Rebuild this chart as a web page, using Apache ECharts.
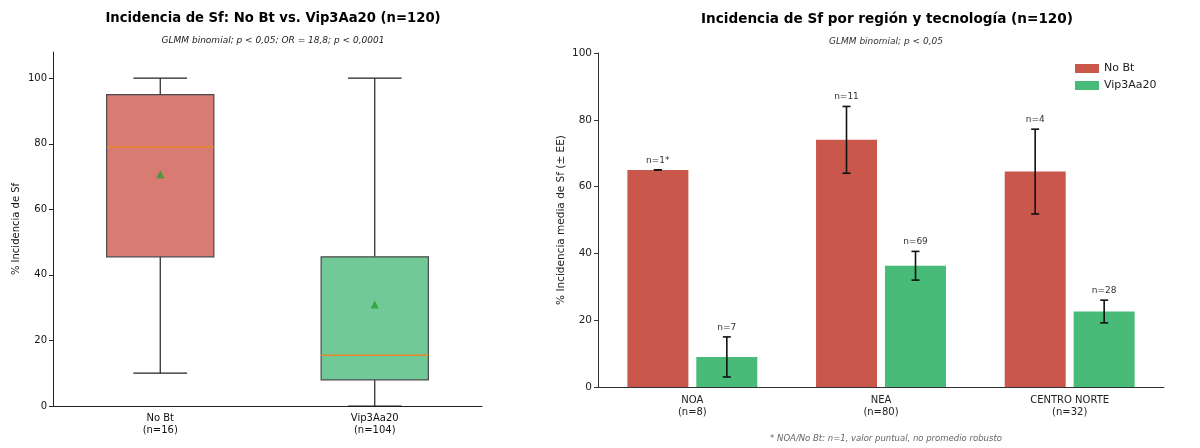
<!DOCTYPE html>
<html>
<head>
<meta charset="utf-8">
<script src="https://cdn.jsdelivr.net/npm/echarts@6.0.0/dist/echarts.min.js"></script>
<style>
html, body { margin: 0; padding: 0; background: #fff; }
#main { width: 1200px; height: 448px; }
</style>
</head>
<body>
<div id="main"></div>
<script>
var myChart = echarts.init(document.getElementById('main'));

// panel izquierdo: boxplot
var boxCats = ['No Bt\n(n=16)', 'Vip3Aa20\n(n=104)'];
// [min, Q1, mediana, Q3, max]
var boxNoBt = [10, 45.5, 79, 95, 100];
var boxVip = [0, 8, 15.5, 45.5, 100];
var boxMeans = [70.7, 31];
var boxColors = ['#d77b73', '#71c997'];

// panel derecho: barras por region
var regions = ['NOA\n(n=8)', 'NEA\n(n=80)', 'CENTRO NORTE\n(n=32)'];
var meanNoBt = [65, 74, 64.5];
var errNoBt = [0, 10, 12.7];
var nNoBt = ['n=1*', 'n=11', 'n=4'];
var meanVip = [9, 36.3, 22.6];
var errVip = [6, 4.3, 3.4];
var nVip = ['n=7', 'n=69', 'n=28'];
var yTicks = [0, 20, 40, 60, 80, 100];

var font = 'DejaVu Sans';

function boxItem(params, api) {
	var i = api.value(0);
	var bw = api.size([1, 0])[0] * 0.5;
	var x = api.coord([i, 0])[0];
	var yMin = api.coord([i, api.value(1)])[1];
	var yQ1 = api.coord([i, api.value(2)])[1];
	var yMed = api.coord([i, api.value(3)])[1];
	var yQ3 = api.coord([i, api.value(4)])[1];
	var yMax = api.coord([i, api.value(5)])[1];
	var line = { stroke: '#222', lineWidth: 1.2 };
	return {
		type: 'group',
		children: [
			{ type: 'line', shape: { x1: x, y1: yMax, x2: x, y2: yQ3 }, style: line },
			{ type: 'line', shape: { x1: x, y1: yQ1, x2: x, y2: yMin }, style: line },
			{ type: 'line', shape: { x1: x - bw / 4, y1: yMax, x2: x + bw / 4, y2: yMax }, style: line },
			{ type: 'line', shape: { x1: x - bw / 4, y1: yMin, x2: x + bw / 4, y2: yMin }, style: line },
			{ type: 'rect', shape: { x: x - bw / 2, y: yQ3, width: bw, height: yQ1 - yQ3 },
				style: { fill: boxColors[i], stroke: '#4a4a4a', lineWidth: 1.2 } },
			{ type: 'line', shape: { x1: x - bw / 2, y1: yMed, x2: x + bw / 2, y2: yMed },
				style: { stroke: '#e8862a', lineWidth: 1.6 } }
		]
	};
}

function errItem(offset, labels) {
	return function (params, api) {
		var i = api.value(0);
		var m = api.value(1), e = api.value(2);
		var x = api.coord([i, m])[0] + offset;
		var yt = api.coord([i, m + e])[1];
		var yb = api.coord([i, m - e])[1];
		var st = { stroke: '#111', lineWidth: 1.6 };
		return {
			type: 'group',
			children: [
				{ type: 'line', shape: { x1: x, y1: yt, x2: x, y2: yb }, style: st },
				{ type: 'line', shape: { x1: x - 4, y1: yt, x2: x + 4, y2: yt }, style: st },
				{ type: 'line', shape: { x1: x - 4, y1: yb, x2: x + 4, y2: yb }, style: st },
				{ type: 'text', x: x, y: yt - 5,
					style: { text: labels[i], fontSize: 9, fontFamily: font, fill: '#333', align: 'center', verticalAlign: 'bottom' } }
			]
		};
	};
}

var option = {
	animation: false,
	title: [
		{ text: 'Incidencia de Sf: No Bt vs. Vip3Aa20 (n=120)', left: 268, top: 7, textAlign: 'center',
			textStyle: { fontFamily: font, fontSize: 13.2, fontWeight: 'bold', color: '#000' } },
		{ text: 'GLMM binomial; p < 0,05; OR = 18,8; p < 0,0001', left: 268, top: 31, textAlign: 'center',
			textStyle: { fontFamily: font, fontSize: 9, fontStyle: 'italic', fontWeight: 'normal', color: '#222' } },
		{ text: 'Incidencia de Sf por región y tecnología (n=120)', left: 882, top: 7, textAlign: 'center',
			textStyle: { fontFamily: font, fontSize: 13.6, fontWeight: 'bold', color: '#000' } },
		{ text: 'GLMM binomial; p < 0,05', left: 881, top: 32, textAlign: 'center',
			textStyle: { fontFamily: font, fontSize: 9, fontStyle: 'italic', fontWeight: 'normal', color: '#333' } },
		{ text: '* NOA/No Bt: n=1, valor puntual, no promedio robusto', left: 881, top: 429, textAlign: 'center',
			textStyle: { fontFamily: font, fontSize: 8.5, fontStyle: 'italic', fontWeight: 'normal', color: '#666' } }
	],
	legend: {
		data: ['No Bt', 'Vip3Aa20'],
		orient: 'vertical',
		left: 1070,
		top: 58,
		itemWidth: 24,
		itemHeight: 9,
		itemGap: 6,
		icon: 'rect',
		textStyle: { fontFamily: font, fontSize: 11, color: '#222' }
	},
	grid: [
		{ left: 53, right: 718, top: 52, bottom: 42 },
		{ left: 598, right: 36, top: 53, bottom: 61 }
	],
	xAxis: [
		{ type: 'category', gridIndex: 0, data: boxCats,
			axisLine: { lineStyle: { color: '#222', width: 1 } },
			axisTick: { alignWithLabel: true, length: 4, lineStyle: { color: '#222' } },
			axisLabel: { fontFamily: font, fontSize: 10, color: '#111', margin: 6, lineHeight: 12 } },
		{ type: 'category', gridIndex: 1, data: regions,
			axisLine: { lineStyle: { color: '#333', width: 1 } },
			axisTick: { show: false },
			axisLabel: { fontFamily: font, fontSize: 10, color: '#222', margin: 7, lineHeight: 12 } }
	],
	yAxis: [
		{ type: 'value', gridIndex: 0, min: 0, max: 108, interval: 20,
			name: '% Incidencia de Sf', nameLocation: 'middle', nameGap: 32,
			nameTextStyle: { fontFamily: font, fontSize: 10, color: '#111' },
			axisLine: { show: true, lineStyle: { color: '#222' } },
			axisTick: { show: true, length: 4, customValues: yTicks, lineStyle: { color: '#222' } },
			axisLabel: { fontFamily: font, fontSize: 10, color: '#111', margin: 6, customValues: yTicks },
			splitLine: { show: false } },
		{ type: 'value', gridIndex: 1, min: 0, max: 100, interval: 20,
			name: '% Incidencia media de Sf (± EE)', nameLocation: 'middle', nameGap: 31,
			nameTextStyle: { fontFamily: font, fontSize: 10.5, color: '#222' },
			axisLine: { show: true, lineStyle: { color: '#333' } },
			axisTick: { show: true, length: 4, lineStyle: { color: '#333' } },
			axisLabel: { fontFamily: font, fontSize: 10.5, color: '#222', margin: 6 },
			splitLine: { show: false } }
	],
	series: [
		{ type: 'custom', name: 'box', xAxisIndex: 0, yAxisIndex: 0,
			renderItem: boxItem,
			encode: { x: 0, y: [1, 2, 3, 4, 5] },
			data: [[0].concat(boxNoBt), [1].concat(boxVip)], z: 2 },
		{ type: 'scatter', name: 'media', xAxisIndex: 0, yAxisIndex: 0,
			symbol: 'triangle', symbolSize: 8,
			itemStyle: { color: '#2a9d2a' },
			data: boxMeans.map(function (v, i) { return [i, v]; }), z: 5 },
		{ type: 'bar', name: 'No Bt', xAxisIndex: 1, yAxisIndex: 1,
			barWidth: 61, barGap: '13%',
			itemStyle: { color: '#c9574b' },
			data: meanNoBt },
		{ type: 'bar', name: 'Vip3Aa20', xAxisIndex: 1, yAxisIndex: 1,
			barWidth: 61, barGap: '13%',
			itemStyle: { color: '#48bb78' },
			data: meanVip },
		{ type: 'custom', name: 'eeNoBt', xAxisIndex: 1, yAxisIndex: 1,
			renderItem: errItem(-34.5, nNoBt), encode: { x: 0, y: 1 },
			data: meanNoBt.map(function (v, i) { return [i, v, errNoBt[i]]; }), z: 5 },
		{ type: 'custom', name: 'eeVip', xAxisIndex: 1, yAxisIndex: 1,
			renderItem: errItem(34.5, nVip), encode: { x: 0, y: 1 },
			data: meanVip.map(function (v, i) { return [i, v, errVip[i]]; }), z: 5 }
	]
};
myChart.setOption(option);
</script>
</body>
</html>
